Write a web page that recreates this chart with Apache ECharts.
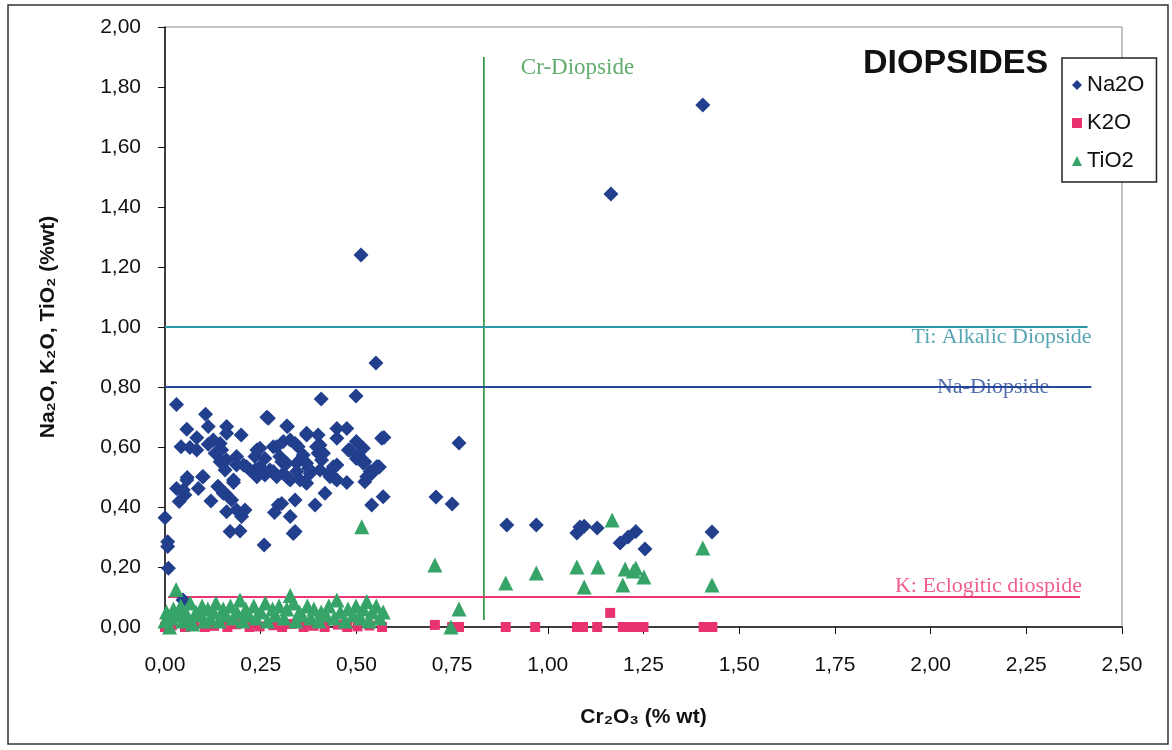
<!DOCTYPE html>
<html>
<head>
<meta charset="utf-8">
<title>Diopsides</title>
<script src="https://cdn.jsdelivr.net/npm/echarts@6/dist/echarts.min.js"></script>
<style>
  html, body { margin: 0; padding: 0; background: #fff; }
  #chart { width: 1172px; height: 750px; }
</style>
</head>
<body>
<div id="chart"></div>
<script>
// Na2O (Cr2O3, value)
const na2oData = [
  [1.405, 1.74], [1.165, 1.443], [0.512, 1.24], [0.551, 0.88], [0.499, 0.77], [0.408, 0.76],
  [0.768, 0.613], [0.708, 0.433], [0.75, 0.41], [0.893, 0.34], [0.97, 0.34],
  [1.076, 0.313], [1.084, 0.333], [1.095, 0.336], [1.129, 0.33], [1.189, 0.28], [1.21, 0.3],
  [1.23, 0.318], [1.254, 0.26], [1.429, 0.317],
  [0.03, 0.742], [0.106, 0.709], [0.27, 0.696], [0.057, 0.659], [0.083, 0.631], [0.113, 0.668],
  [0.161, 0.668], [0.161, 0.646], [0.199, 0.64], [0.042, 0.601], [0.065, 0.598], [0.083, 0.59],
  [0.113, 0.609], [0.144, 0.612], [0.131, 0.579], [0.144, 0.551], [0.157, 0.523], [0.187, 0.568],
  [0.187, 0.54], [0.213, 0.534], [0.235, 0.523], [0.248, 0.596], [0.235, 0.568], [0.261, 0.507],
  [0.283, 0.518], [0.283, 0.601], [0.058, 0.498], [0.098, 0.501], [0.03, 0.462], [0.087, 0.462],
  [0.052, 0.44], [0.037, 0.418], [0.138, 0.468], [0.152, 0.446], [0.174, 0.423], [0.12, 0.42],
  [0.179, 0.482], [0.161, 0.384], [0.187, 0.39], [0.209, 0.39], [0.2, 0.368], [0.17, 0.318],
  [0.196, 0.32], [0.0, 0.364], [0.007, 0.284], [0.007, 0.268], [0.259, 0.273], [0.296, 0.407],
  [0.286, 0.382], [0.009, 0.196], [0.047, 0.09],
  [0.32, 0.668], [0.37, 0.64], [0.4, 0.64], [0.449, 0.662], [0.475, 0.662], [0.449, 0.629],
  [0.566, 0.629], [0.5, 0.618], [0.518, 0.596], [0.479, 0.59], [0.405, 0.607], [0.4, 0.579],
  [0.409, 0.557], [0.505, 0.573], [0.522, 0.551], [0.449, 0.54], [0.427, 0.512], [0.444, 0.496],
  [0.475, 0.482], [0.557, 0.534], [0.54, 0.512], [0.522, 0.484], [0.305, 0.551], [0.34, 0.612],
  [0.357, 0.562], [0.322, 0.496], [0.366, 0.484], [0.344, 0.518], [0.375, 0.529], [0.418, 0.446],
  [0.392, 0.407], [0.34, 0.423], [0.305, 0.412], [0.327, 0.368], [0.34, 0.318], [0.54, 0.407],
  [0.57, 0.434], [0.572, 0.632], [0.56, 0.533],
  [0.126, 0.623], [0.148, 0.59], [0.161, 0.557], [0.205, 0.54], [0.222, 0.523], [0.24, 0.501],
  [0.248, 0.534], [0.261, 0.562], [0.24, 0.59], [0.274, 0.523], [0.292, 0.501], [0.292, 0.601],
  [0.309, 0.618], [0.327, 0.623], [0.348, 0.601], [0.361, 0.573], [0.37, 0.546], [0.379, 0.512],
  [0.318, 0.546], [0.309, 0.512], [0.327, 0.49], [0.353, 0.49], [0.37, 0.479], [0.3, 0.568],
  [0.344, 0.546],
  [0.396, 0.601], [0.414, 0.579], [0.405, 0.523], [0.431, 0.501], [0.449, 0.49], [0.44, 0.534],
  [0.483, 0.59], [0.5, 0.562], [0.518, 0.546], [0.536, 0.518], [0.553, 0.534], [0.527, 0.501],
  [0.048, 0.457], [0.057, 0.49], [0.1, 0.501], [0.139, 0.468], [0.157, 0.446], [0.179, 0.49],
  [0.335, 0.312], [0.266, 0.699], [0.318, 0.67], [0.37, 0.646]
];

// K2O
const k2oData = [
  [0.0, 0.0], [0.018, 0.006], [0.052, 0.0], [0.077, 0.01], [0.104, 0.0], [0.128, 0.004],
  [0.163, 0.0], [0.186, 0.009], [0.221, 0.0], [0.247, 0.002], [0.283, 0.006], [0.306, 0.0],
  [0.331, 0.01], [0.362, 0.0], [0.388, 0.004], [0.417, 0.0], [0.452, 0.008], [0.476, 0.0],
  [0.503, 0.002], [0.534, 0.005], [0.567, 0.0],
  [0.705, 0.007], [0.75, 0.0], [0.768, 0.0], [0.89, 0.0], [0.967, 0.0], [1.076, 0.0],
  [1.092, 0.0], [1.129, 0.0], [1.163, 0.047], [1.196, 0.0], [1.21, 0.0], [1.225, 0.0],
  [1.24, 0.0], [1.25, 0.0], [1.407, 0.0], [1.43, 0.0]
];

// TiO2
const tio2Data = [
  [0.0, 0.02], [0.004, 0.05], [0.012, 0.0], [0.016, 0.03], [0.022, 0.06], [0.029, 0.125],
  [0.033, 0.04], [0.041, 0.07], [0.046, 0.02], [0.053, 0.05], [0.061, 0.03], [0.066, 0.08],
  [0.072, 0.01], [0.081, 0.05], [0.088, 0.04], [0.097, 0.07], [0.103, 0.02], [0.112, 0.06],
  [0.118, 0.03], [0.127, 0.05], [0.133, 0.08], [0.141, 0.02], [0.152, 0.06], [0.158, 0.04],
  [0.171, 0.07], [0.178, 0.03], [0.188, 0.05], [0.196, 0.09], [0.203, 0.02], [0.211, 0.06],
  [0.219, 0.04], [0.232, 0.07], [0.238, 0.03], [0.251, 0.05], [0.262, 0.08], [0.268, 0.02],
  [0.281, 0.06], [0.288, 0.04], [0.298, 0.07], [0.311, 0.03], [0.318, 0.06], [0.327, 0.105],
  [0.336, 0.08], [0.342, 0.02], [0.351, 0.05], [0.358, 0.04], [0.372, 0.07], [0.381, 0.03],
  [0.389, 0.06], [0.402, 0.02], [0.408, 0.05], [0.421, 0.04], [0.428, 0.07], [0.442, 0.03],
  [0.449, 0.09], [0.458, 0.05], [0.471, 0.02], [0.478, 0.06], [0.492, 0.04], [0.499, 0.07],
  [0.511, 0.03], [0.518, 0.06], [0.527, 0.085], [0.533, 0.02], [0.541, 0.05], [0.552, 0.07],
  [0.561, 0.03], [0.57, 0.05],
  [0.514, 0.334], [0.705, 0.207], [0.768, 0.06], [0.747, 0.0], [0.89, 0.147], [0.97, 0.18],
  [1.076, 0.2], [1.095, 0.133], [1.131, 0.2], [1.168, 0.357], [1.196, 0.14], [1.202, 0.193],
  [1.223, 0.187], [1.23, 0.197], [1.251, 0.167], [1.405, 0.263], [1.429, 0.14]
];

// reference lines (start, end)
const crLine = [[0.833, 0.023], [0.833, 1.9]];
const tiLine = [[0, 1.0], [2.41, 1.0]];
const naLine = [[0, 0.8], [2.42, 0.8]];
const kLine = [[0.008, 0.1], [2.39, 0.1]];

const xTicks = { min: 0, max: 2.5, interval: 0.25 };
const yTicks = { min: 0, max: 2, interval: 0.2 };

const fmt = (v) => v.toFixed(2).replace('.', ',');
const serif = 'Liberation Serif';
const sans = 'Liberation Sans';

const refLine = (data, color) => ({
  type: 'line',
  data: data,
  symbol: 'none',
  silent: true,
  z: 1,
  lineStyle: { color: color, width: 1.8 },
});

const chart = echarts.init(document.getElementById('chart'));
chart.setOption({
  animation: false,
  backgroundColor: '#fff',
  textStyle: { fontFamily: sans },
  title: {
    text: 'DIOPSIDES',
    left: 858,
    top: 42,
    textStyle: { fontSize: 34, fontWeight: 'bold', color: '#111', fontFamily: sans },
  },
  legend: {
    orient: 'vertical',
    left: 1062,
    top: 58,
    padding: [16, 12, 10, 10],
    itemGap: 16,
    itemWidth: 10,
    itemHeight: 10,
    backgroundColor: '#fff',
    borderColor: '#222',
    borderWidth: 1.5,
    borderRadius: 0,
    textStyle: { fontSize: 22, color: '#111' },
    data: [
      { name: 'Na2O', icon: 'diamond' },
      { name: 'K2O', icon: 'rect' },
      { name: 'TiO2', icon: 'triangle' },
    ],
  },
  grid: {
    left: 165,
    top: 27,
    right: 50,
    bottom: 123,
    show: true,
    borderColor: '#888',
    borderWidth: 1,
  },
  xAxis: {
    type: 'value',
    min: xTicks.min,
    max: xTicks.max,
    interval: xTicks.interval,
    name: 'Cr₂O₃ (% wt)',
    nameLocation: 'middle',
    nameGap: 80,
    nameTextStyle: { fontSize: 21, fontWeight: 'bold', color: '#111' },
    axisLine: { lineStyle: { color: '#111', width: 1.5 } },
    axisTick: { length: 7, lineStyle: { color: '#111' } },
    axisLabel: { fontSize: 21, color: '#111', margin: 28, formatter: fmt },
    splitLine: { show: false },
  },
  yAxis: {
    type: 'value',
    min: yTicks.min,
    max: yTicks.max,
    interval: yTicks.interval,
    name: 'Na₂O, K₂O, TiO₂ (%wt)',
    nameLocation: 'middle',
    nameGap: 106,
    nameTextStyle: { fontSize: 21, fontWeight: 'bold', color: '#111' },
    axisLine: { show: true, lineStyle: { color: '#111', width: 1.5 } },
    axisTick: { show: true, length: 7, lineStyle: { color: '#111' } },
    axisLabel: { fontSize: 21, color: '#111', margin: 24, formatter: fmt },
    splitLine: { show: false },
  },
  graphic: [
    {
      type: 'rect',
      shape: { x: 8, y: 5, width: 1160, height: 739 },
      style: { fill: 'none', stroke: '#333', lineWidth: 1.5 },
      z: -1,
    },
  ],
  series: [
    refLine(crLine, '#3a984a'),
    refLine(tiLine, '#2a98a8'),
    refLine(naLine, '#27479a'),
    refLine(kLine, '#ec3577'),
    {
      name: 'Na2O',
      type: 'scatter',
      symbol: 'diamond',
      symbolSize: 15,
      clip: false,
      z: 3,
      itemStyle: { color: '#213f8d', opacity: 1 },
      data: na2oData,
    },
    {
      name: 'K2O',
      type: 'scatter',
      symbol: 'rect',
      symbolSize: 10,
      clip: false,
      z: 3,
      itemStyle: { color: '#e8336f', opacity: 1 },
      data: k2oData,
    },
    {
      name: 'TiO2',
      type: 'scatter',
      symbol: 'triangle',
      symbolSize: 15,
      clip: false,
      z: 4,
      itemStyle: { color: '#36a468', opacity: 1 },
      data: tio2Data,
    },
    // labels of the reference lines
    {
      type: 'scatter',
      symbolSize: 0,
      silent: true,
      z: 5,
      data: [
        {
          value: crLine[1],
          label: { show: true, position: 'right', distance: 0, offset: [37, 11], formatter: 'Cr-Diopside',
            fontFamily: serif, fontSize: 23, color: '#3a984a' },
        },
        {
          value: tiLine[1],
          label: { show: true, position: 'left', distance: 0, offset: [4, 10], formatter: 'Ti: Alkalic Diopside',
            fontFamily: serif, fontSize: 22, color: '#2a8fa0' },
        },
        {
          value: naLine[1],
          label: { show: true, position: 'left', distance: 0, offset: [-42, 0], formatter: 'Na-Diopside',
            fontFamily: serif, fontSize: 22, color: '#27479a' },
        },
        {
          value: kLine[1],
          label: { show: true, position: 'left', distance: 0, offset: [2, -11], formatter: 'K: Eclogitic diospide',
            fontFamily: serif, fontSize: 22, color: '#ec3577' },
        },
      ],
    },
  ],
});
</script>
</body>
</html>
